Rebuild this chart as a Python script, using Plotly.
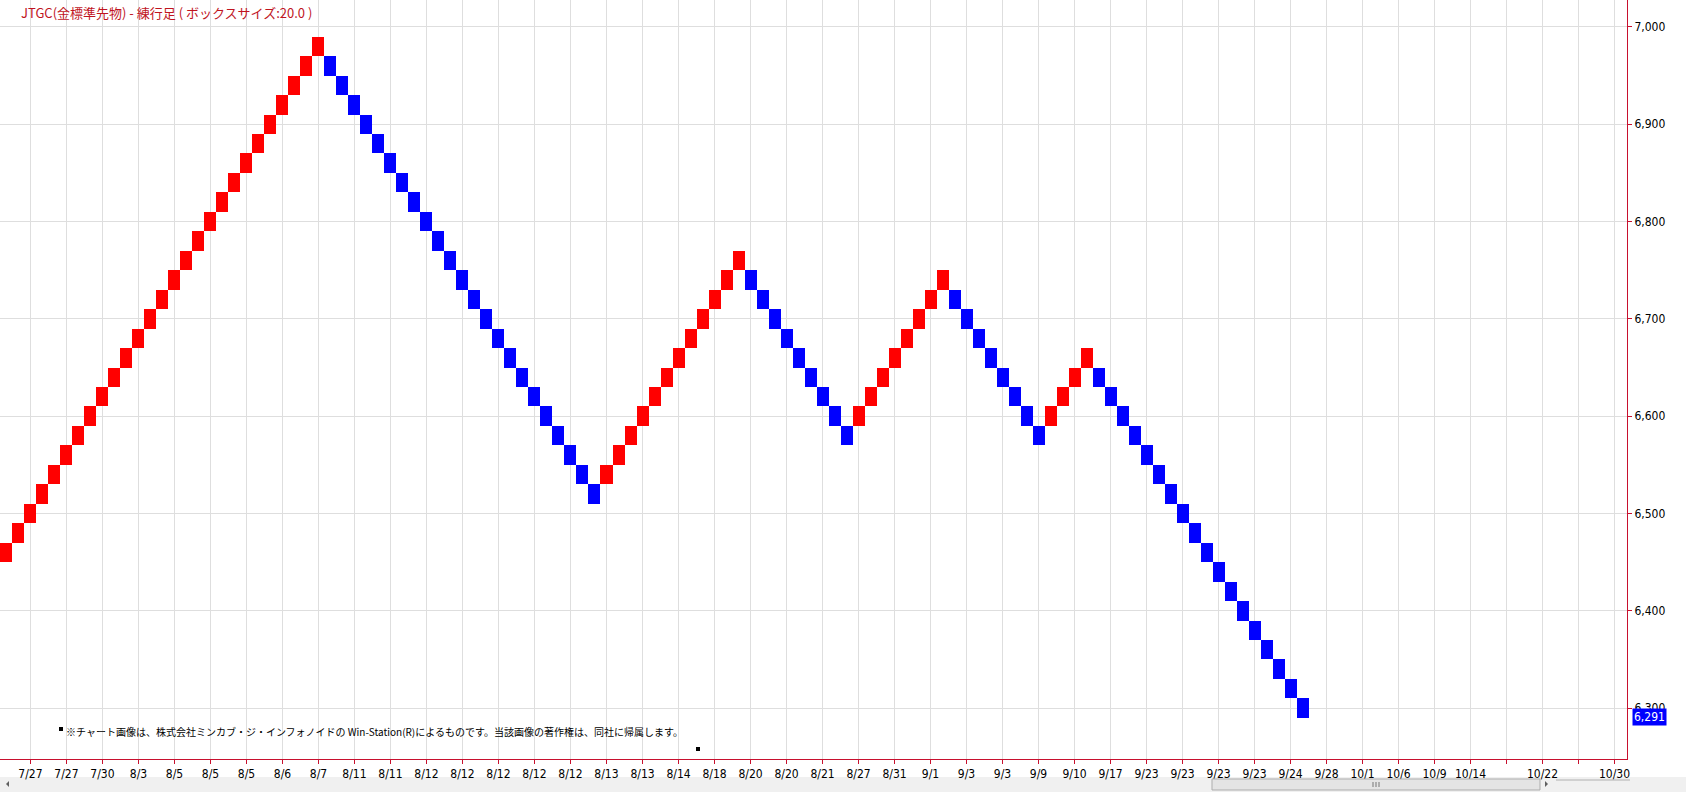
import plotly.graph_objects as go

# Renko (練行足) box size
BOX_SIZE = 20

# box bottoms, one per column, grouped by run
up_run_1 = [6450, 6470, 6490, 6510, 6530, 6550, 6570, 6590, 6610, 6630, 6650, 6670, 6690, 6710,
            6730, 6750, 6770, 6790, 6810, 6830, 6850, 6870, 6890, 6910, 6930, 6950, 6970]
down_run_1 = [6950, 6930, 6910, 6890, 6870, 6850, 6830, 6810, 6790, 6770, 6750, 6730, 6710, 6690,
              6670, 6650, 6630, 6610, 6590, 6570, 6550, 6530, 6510]
up_run_2 = [6530, 6550, 6570, 6590, 6610, 6630, 6650, 6670, 6690, 6710, 6730, 6750]
down_run_2 = [6730, 6710, 6690, 6670, 6650, 6630, 6610, 6590, 6570]
up_run_3 = [6590, 6610, 6630, 6650, 6670, 6690, 6710, 6730]
down_run_3 = [6710, 6690, 6670, 6650, 6630, 6610, 6590, 6570]
up_run_4 = [6590, 6610, 6630, 6650]
down_run_4 = [6630, 6610, 6590, 6570, 6550, 6530, 6510, 6490, 6470, 6450, 6430, 6410, 6390, 6370,
              6350, 6330, 6310, 6290]

runs = [("up", up_run_1), ("down", down_run_1), ("up", up_run_2), ("down", down_run_2),
        ("up", up_run_3), ("down", down_run_3), ("up", up_run_4), ("down", down_run_4)]

last_price = 6291

# date labels shown under every third column
tick_labels = ["7/27", "7/27", "7/30", "8/3", "8/5", "8/5", "8/5", "8/6", "8/7", "8/11", "8/11",
               "8/12", "8/12", "8/12", "8/12", "8/12", "8/13", "8/13", "8/14", "8/18", "8/20",
               "8/20", "8/21", "8/27", "8/31", "9/1", "9/3", "9/3", "9/9", "9/10", "9/17", "9/23",
               "9/23", "9/23", "9/23", "9/24", "9/28", "10/1", "10/6", "10/9", "10/14", "",
               "10/22", "", "10/30"]
price_ticks = [6300, 6400, 6500, 6600, 6700, 6800, 6900, 7000]

# split boxes into up / down columns
up_x, up_base, down_x, down_base = [], [], [], []
col = 0
for direction, lows in runs:
    for low in lows:
        if direction == "up":
            up_x.append(col)
            up_base.append(low)
        else:
            down_x.append(col)
            down_base.append(low)
        col += 1

tick_cols = [2 + 3 * i for i in range(len(tick_labels))]

AXIS_RED = "#c8102e"
GRID = "#dedede"
NARROW = "Liberation Sans Narrow, DejaVu Sans Condensed, Arial Narrow, sans-serif"
JP = "Noto Sans CJK JP, sans-serif"

# plot area is 1627 x 759 px; helpers to place page pixels in paper coords
PW, PH = 1627, 759


def px(x):
    return x / PW


def py(y):
    return (PH - y) / PH


fig = go.Figure()
fig.add_trace(go.Bar(
    x=up_x, y=[BOX_SIZE] * len(up_x), base=up_base, width=1,
    marker=dict(color="#ff0000", line=dict(width=0)), name="up", showlegend=False
))
fig.add_trace(go.Bar(
    x=down_x, y=[BOX_SIZE] * len(down_x), base=down_base, width=1,
    marker=dict(color="#0000ff", line=dict(width=0)), name="down", showlegend=False
))

fig.update_layout(
    width=1686, height=792,
    margin=dict(l=0, r=59, t=0, b=33),
    paper_bgcolor="white", plot_bgcolor="white",
    barmode="overlay", bargap=0,
    font=dict(family=NARROW, size=12, color="black"),
)

fig.update_xaxes(
    range=[-0.54, 135.04],
    tickmode="array", tickvals=tick_cols, ticktext=tick_labels,
    showgrid=True, gridcolor=GRID, gridwidth=1,
    showline=True, linecolor=AXIS_RED, linewidth=1,
    ticks="outside", ticklen=4, tickcolor=AXIS_RED,
    tickfont=dict(family=NARROW, size=12, color="black"),
    zeroline=False,
)
fig.update_yaxes(
    side="right",
    range=[6247.7, 7027.7],
    tickmode="array", tickvals=price_ticks,
    ticktext=[f"{v:,}" for v in price_ticks],
    showgrid=True, gridcolor=GRID, gridwidth=1,
    showline=True, linecolor=AXIS_RED, linewidth=1,
    ticks="outside", ticklen=4, tickcolor=AXIS_RED,
    tickfont=dict(family=NARROW, size=12, color="black"),
    zeroline=False,
)

# title in the top-left corner
fig.add_annotation(
    text="JTGC(金標準先物) - 練行足 ( ボックスサイズ:20.0 )",
    xref="paper", yref="paper", x=0, y=1, xanchor="left", yanchor="top",
    xshift=19, yshift=-1, showarrow=False,
    font=dict(family=JP, size=13, color="#c0141e"),
)

# last price tag on the price axis
fig.add_annotation(
    text=f"{last_price:,}",
    xref="paper", yref="y", x=1, y=last_price, xanchor="left", yanchor="middle",
    xshift=5, showarrow=False, bgcolor="#0000ff", borderpad=1,
    font=dict(family=NARROW, size=12, color="white"),
)

# copyright notice
fig.add_annotation(
    text="※チャート画像は、株式会社ミンカブ・ジ・インフォノイドの Win-Station(R)によるものです。当該画像の著作権は、同社に帰属します。",
    xref="paper", yref="paper", x=px(64), y=py(731),
    xanchor="left", yanchor="middle", showarrow=False,
    font=dict(family=JP, size=10, color="black"),
)
fig.add_shape(type="rect", xref="paper", yref="paper",
              x0=px(59), x1=px(63), y0=py(731), y1=py(727),
              fillcolor="black", line=dict(width=0))
fig.add_shape(type="rect", xref="paper", yref="paper",
              x0=px(696), x1=px(700), y0=py(751), y1=py(747),
              fillcolor="black", line=dict(width=0))

# scrollbar strip under the chart
fig.add_shape(type="rect", xref="paper", yref="paper",
              x0=0, x1=px(1686), y0=py(777), y1=py(792),
              fillcolor="#f0f0f0", line=dict(width=0), layer="below")
fig.add_shape(type="rect", xref="paper", yref="paper",
              x0=px(1212), x1=px(1540), y0=py(779), y1=py(790),
              fillcolor="#e4e4e4", line=dict(color="#adadad", width=1))
# grip marks on the thumb
for gx in (1373, 1376, 1379):
    fig.add_shape(type="line", xref="paper", yref="paper",
                  x0=px(gx), x1=px(gx), y0=py(782), y1=py(787),
                  line=dict(color="#777777", width=1))
# arrow heads at both ends
fig.add_shape(type="path", xref="paper", yref="paper",
              path=f"M {px(9)} {py(781)} L {px(6)} {py(784)} L {px(9)} {py(787)} Z",
              fillcolor="#606060", line=dict(width=0))
fig.add_shape(type="path", xref="paper", yref="paper",
              path=f"M {px(1545)} {py(781)} L {px(1548)} {py(784)} L {px(1545)} {py(787)} Z",
              fillcolor="#606060", line=dict(width=0))
# zoom slider track
fig.add_shape(type="line", xref="paper", yref="paper",
              x0=px(1556), x1=px(1630), y0=py(780), y1=py(780),
              line=dict(color="#b0b0b0", width=1))

# page body has a default 8px margin; drop it so the figure sits at the window corner
fig.write_html("out.html", config={"displayModeBar": False},
               post_script="document.body.style.margin='0px';")
